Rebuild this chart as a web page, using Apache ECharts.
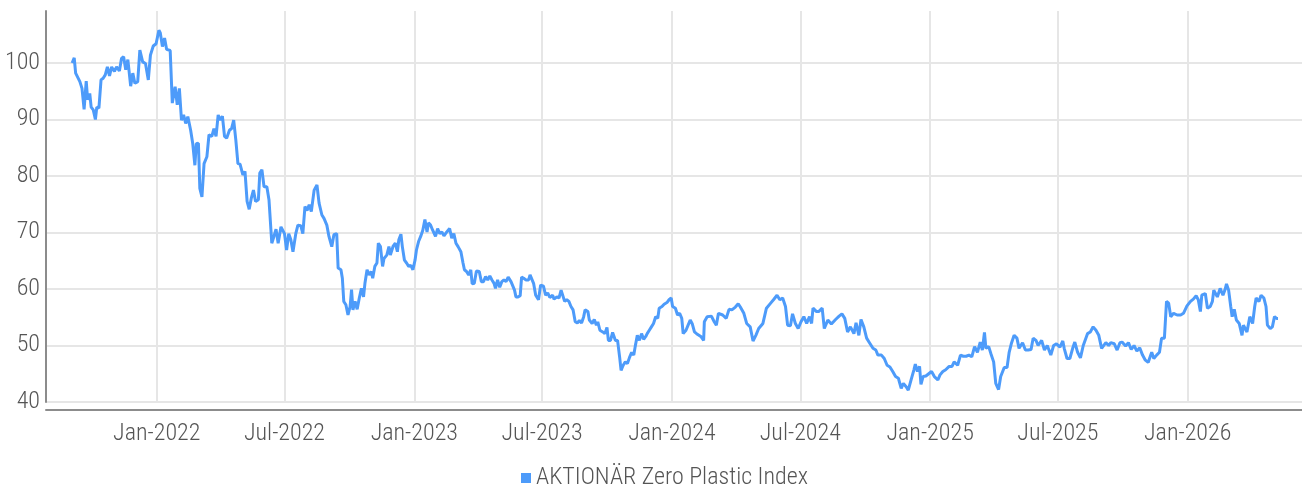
<!DOCTYPE html>
<html><head><meta charset="utf-8">
<script src="https://cdn.jsdelivr.net/npm/echarts@6/dist/echarts.min.js"></script>
<style>html,body{margin:0;padding:0;background:#fff}#c{width:1302px;height:490px}</style>
</head><body><div id="c"></div>
<script>
const seriesName = 'AKTIONÄR Zero Plastic Index';
const startDate = [2021, 8, 3]; // 2021-09-03 (month is 0-based)
const xMin = '2021-07-28';
const xMax = '2026-06-12';
const yMin = 40, yMax = 109.2, yInterval = 10;
const monthNames = ['Jan','Feb','Mar','Apr','May','Jun','Jul','Aug','Sep','Oct','Nov','Dec'];

const dayOffsets = [0,3,5,7,11,14,17,20,22,25,27,30,33,35,38,41,44,47,50,53,56,60,63,67,70,73,76,79,83,86,89,93,96,100,104,108,111,115,119,123,125,128,131,134,139,142,146,149,152,155,158,161,164,168,171,174,176,179,181,184,187,191,194,198,201,204,207,210,213,216,219,223,226,229,232,235,238,242,245,248,251,254,257,260,264,266,269,272,276,279,283,286,289,292,296,298,301,304,307,310,313,317,320,324,327,330,333,336,339,343,347,350,354,357,361,364,368,371,375,
377,381,383,385,388,391,394,396,398,401,404,407,410,413,415,418,421,424,426,429,432,434,437,440,442,446,449,451,455,458,461,463,466,468,471,474,477,480,483,486,488,491,494,497,500,503,505,508,511,515,518,521,524,527,531,535,538,541,544,547,551,554,556,559,562,565,567,570,573,577,580,583,586,589,592,595,598,600,603,606,609,612,615,618,622,624,627,629,632,635,637,640,643,647,649,651,654,657,661,664,668,671,674,677,681,683,687,690,693,695,698,701,704,707,710,713,716,719,722,725,727,731,733,737,740,743,745,748,752,755,758,760,763,766,770,773,776,778,781,784,787,790,793,796,798,801,804,807,810,813,815,818,821,824,827,830,832,836,839,843,846,849,851,855,858,861,864,866,870,873,876,879,882,885,
891,895,896,900,906,910,913,916,922,927,931,935,940,944,947,952,956,961,965,969,973,979,984,990,994,999,1003,1007,1011,1014,1018,1021,1025,1029,1033,1037,1041,1045,1048,1050,1055,1058,1063,1066,1071,1076,1082,1087,1091,1095,1099,1103,1108,1111,1115,1118,1122,1126,1130,1135,1139,1142,1147,1151,1155,1159,1163,1167,1171,1175,1178,1182,1185,1189,1193,1195,1198,1201,1203,1206,1210,1214,1218,1222,1227,1230,1234,1238,1243,1247,1250,1255,1259,1263,1267,1271,1275,1279,1283,1287,1290,1293,1295,1299,1302,1306,1309,1313,1316,1321,1325,1328,1331,1335,1339,1342,1347,1351,1355,1359,1362,1366,1369,1374,1378,1382,1387,1391,1395,1400,1404,1406,1410,1414,1418,1421,1425,1429,1433,1439,1443,1447,1451,1455,1459,1465,1469,1472,1477,1481,1485,1488,1493,1497,1501,1505,1509,1513,1517,1521,1525,1530,1533,1537,1541,1544,1548,1551,1554,1557,1561,1566,1571,1575,1580,1585,1589,1593,1596,1599,1601,1606,1609,1613,1616,1618,1623,1627,1631,1634,1636,1639,1642,1644,1647,1650,1654,1658,1660,1665,1669,1673,1676,1678,1682,1685,1689,1692,1694,1698,1701,1704,1707,1709];

const values = [100.0,100.9,98.2,98.5,96.7,95.5,91.8,96.8,93.5,94.6,92.2,91.7,90.0,92.2,92.0,97.0,97.3,97.9,99.3,97.7,99.3,98.5,99.3,98.6,100.8,101.1,98.8,100.6,95.9,98.2,96.4,96.7,102.3,100.2,99.9,97.0,101.4,103.0,103.4,105.8,105.3,102.9,104.4,102.4,102.2,92.9,95.8,92.6,95.5,89.9,90.8,89.3,90.5,88.1,85.7,81.9,85.7,85.8,77.8,76.3,82.2,83.4,87.3,87.0,88.4,87.0,90.8,89.9,90.6,87.0,86.7,88.1,88.4,89.9,86.4,82.2,82.1,80.2,80.8,75.5,74.1,76.1,77.5,75.5,75.8,80.5,81.1,78.1,78.1,75.8,68.1,69.3,70.6,68.1,71.0,71.3,69.8,66.9,69.8,68.7,66.6,69.8,71.3,71.2,69.8,74.6,73.9,74.9,73.7,77.5,78.4,75.2,73.1,72.5,71.3,69.3,67.5,69.6,69.8,
63.7,63.4,61.9,57.8,57.2,55.4,56.9,59.9,56.3,57.8,56.4,58.4,60.1,58.6,61.0,63.4,62.5,63.1,61.9,64.0,64.6,68.1,67.5,64.0,65.4,66.0,67.5,66.0,67.6,68.1,66.6,68.7,69.7,67.5,65.1,64.6,64.0,64.2,63.4,65.1,66.9,68.4,69.3,70.4,72.3,70.1,71.7,71.3,70.4,69.3,70.7,69.8,70.1,69.4,70.1,70.7,69.0,69.8,68.1,67.5,66.6,64.6,63.4,63.1,62.5,63.4,60.9,61.0,63.2,63.1,61.3,61.3,62.2,61.6,62.3,61.6,61.0,60.1,61.6,60.3,61.3,61.6,61.3,62.1,61.3,61.6,59.8,58.6,58.6,58.8,62.1,61.9,61.6,61.6,62.5,62.5,61.0,58.9,58.1,60.7,60.5,58.9,59.3,58.5,58.9,58.2,58.6,58.4,59.8,59.7,57.8,58.1,57.8,56.9,56.3,54.2,54.0,54.4,54.0,55.1,56.3,56.0,54.5,53.9,54.6,53.6,54.2,52.7,52.4,52.1,53.2,50.9,50.9,52.3,50.9,50.9,47.9,45.6,46.5,47.1,46.8,47.9,48.8,48.3,49.8,51.8,50.9,52.1,51.1,51.6,52.1,52.7,53.3,53.9,55.1,54.8,56.6,56.9,57.3,57.6,58.1,58.4,56.9,56.6,55.4,55.7,54.8,52.1,52.7,53.6,54.5,53.8,52.4,52.1,
51.6,50.9,54.2,55.1,55.2,54.2,53.6,55.7,55.4,54.8,56.4,56.3,56.8,57.4,56.8,55.7,53.9,53.3,50.8,51.8,53.0,53.9,56.6,57.5,58.1,58.9,58.1,58.4,56.9,53.6,53.5,55.6,53.9,53.0,54.2,55.1,53.9,55.1,53.9,56.6,56.0,56.0,56.6,53.0,54.5,53.8,54.6,55.2,55.6,54.8,52.4,53.3,52.1,54.0,51.8,54.6,53.3,51.3,50.5,49.5,49.2,48.3,48.3,47.7,46.5,46.2,45.4,44.5,44.2,42.4,43.3,42.7,42.1,43.9,45.7,46.7,45.4,46.3,43.1,44.5,44.6,45.0,45.4,44.5,43.9,44.8,45.4,45.7,46.3,46.3,47.1,46.5,48.3,48.1,48.1,48.3,48.0,49.8,48.8,50.6,49.2,52.3,49.5,49.8,48.6,47.1,43.3,42.2,44.5,46.1,46.1,48.8,50.3,51.8,51.3,49.5,50.5,49.2,49.2,49.3,51.3,50.9,50.0,50.9,49.2,50.0,48.3,50.0,50.3,49.7,50.8,49.5,47.7,47.7,49.5,50.6,48.8,47.8,50.0,52.1,52.4,53.3,52.7,51.8,49.5,50.5,50.0,50.5,50.3,49.2,50.5,50.6,49.9,50.5,49.3,50.0,49.0,49.6,48.3,47.4,47.0,48.8,47.7,48.3,48.8,51.3,51.3,57.8,57.5,55.1,55.7,55.4,55.4,55.7,57.0,57.8,58.2,58.8,58.1,56.0,58.9,59.2,56.6,56.9,57.8,59.8,58.6,60.1,58.9,59.9,60.9,59.8,56.9,55.1,56.4,54.5,53.9,51.8,53.6,52.4,55.1,53.9,56.9,58.4,57.8,58.9,58.4,56.9,53.6,53.0,53.3,55.1,54.8,54.8];

const seriesData = dayOffsets.map((d, i) => [new Date(startDate[0], startDate[1], startDate[2] + d).getTime(), values[i]]);

const FONT = "'Roboto Condensed', 'Liberation Sans Narrow', 'Roboto', sans-serif";
const FONT_SIZE = 24;
const chart = echarts.init(document.getElementById('c'), null, {renderer: 'canvas'});
chart.setOption({
  animation: false,
  backgroundColor: '#ffffff',
  grid: {left: 46, right: 0, top: 11, bottom: 88, containLabel: false},
  legend: {
    data: [seriesName], top: 466, left: 521, padding: 0,
    icon: 'rect', itemWidth: 10, itemHeight: 10, itemGap: 6,
    textStyle: {fontFamily: FONT, fontSize: FONT_SIZE, fontWeight: 300, color: '#555'}
  },
  xAxis: {
    type: 'time',
    min: new Date(xMin + 'T00:00:00').getTime(),
    max: new Date(xMax + 'T00:00:00').getTime(),
    minInterval: 180 * 86400000,
    maxInterval: 185 * 86400000,
    offset: 8,
    axisLine: {show: true, lineStyle: {color: '#8c8c8c', width: 2}},
    axisTick: {show: false},
    axisLabel: {
      fontFamily: FONT, fontSize: FONT_SIZE, fontWeight: 300, color: '#555', margin: 12,
      hideOverlap: false,
      formatter: function (v) {
        const d = new Date(v);
        if (d.getDate() === 1 && (d.getMonth() === 0 || d.getMonth() === 6) && d.getHours() === 0) {
          return monthNames[d.getMonth()] + '-' + d.getFullYear();
        }
        return '';
      }
    },
    splitLine: {show: true, showMinLine: false, showMaxLine: false, lineStyle: {color: '#e6e6e6', width: 2}}
  },
  yAxis: {
    type: 'value', min: yMin, max: yMax, interval: yInterval,
    axisLine: {show: true, lineStyle: {color: '#8c8c8c', width: 2}},
    axisTick: {show: false},
    axisLabel: {
      fontFamily: FONT, fontSize: FONT_SIZE, fontWeight: 300, color: '#555', margin: 6, showMaxLabel: false,
      formatter: function (v) { return (Math.abs(v % 10) < 1e-6) ? String(v) : ''; }
    },
    splitLine: {show: true, showMaxLine: false, lineStyle: {color: '#e6e6e6', width: 2}}
  },
  series: [{
    name: seriesName, type: 'line', data: seriesData,
    showSymbol: false, symbol: 'none',
    lineStyle: {color: '#4d9bfa', width: 3},
    itemStyle: {color: '#4d9bfa'}
  }]
});
</script></body></html>
